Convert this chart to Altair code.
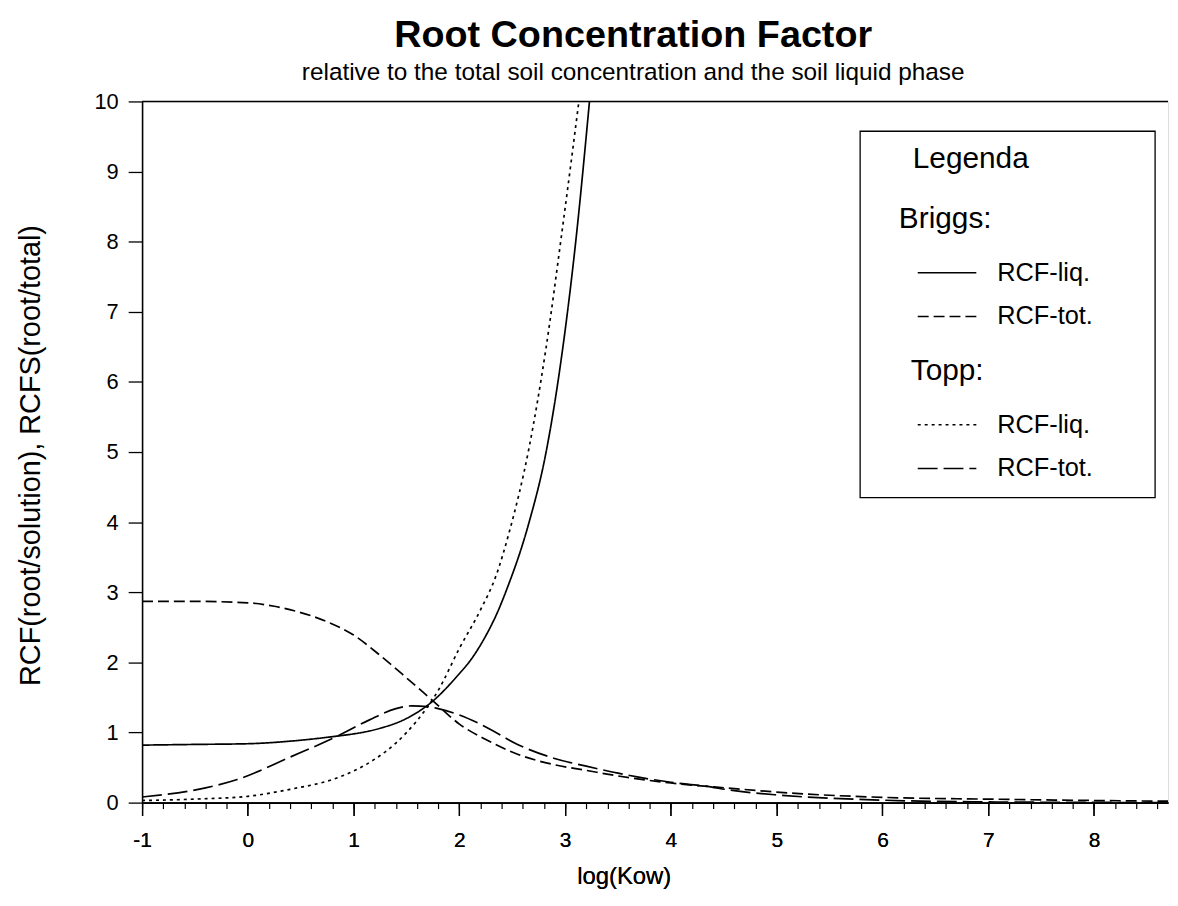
import altair as alt
import pandas as pd

# ---- data (x = log(Kow), y = factor) ----
briggs_liq_x = [-1.0, -0.5, 0.0, 0.5, 0.85, 1.0, 1.25, 1.5, 1.75, 2.0, 2.1, 2.25, 2.35, 2.45, 2.65, 2.82, 2.97, 3.1, 3.23]
briggs_liq_y = [0.82, 0.83, 0.84, 0.89, 0.95, 0.98, 1.06, 1.2, 1.45, 1.84, 2.02, 2.38, 2.68, 3.05, 3.95, 5.0, 6.4, 8.0, 10.0]

briggs_tot_x = [-1.0, -0.5, 0.0, 0.25, 0.5, 0.75, 1.0, 1.25, 1.5, 1.75, 2.0, 2.25, 2.55, 2.9, 3.2, 3.5, 4.0, 4.6, 5.0, 6.0, 7.0, 8.0, 8.7]
briggs_tot_y = [2.87, 2.87, 2.85, 2.8, 2.71, 2.58, 2.39, 2.1, 1.78, 1.45, 1.12, 0.9, 0.69, 0.54, 0.46, 0.38, 0.28, 0.2, 0.15, 0.075, 0.05, 0.03, 0.02]

topp_liq_x = [-1.0, -0.5, 0.0, 0.4, 0.8, 1.0, 1.2, 1.4, 1.6, 1.8, 2.0, 2.2, 2.35, 2.47, 2.66, 2.82, 2.97, 3.13]
topp_liq_y = [0.03, 0.05, 0.09, 0.19, 0.33, 0.45, 0.62, 0.85, 1.17, 1.6, 2.2, 2.75, 3.25, 3.85, 5.07, 6.49, 8.14, 10.0]

topp_tot_x = [-1.0, -0.4, -0.1, 0.4, 0.85, 1.15, 1.4, 1.55, 1.7, 1.8, 2.0, 2.25, 2.55, 2.9, 3.2, 3.5, 4.0, 4.3, 4.6, 5.0, 6.0, 7.0, 8.0, 8.7]
topp_tot_y = [0.08, 0.21, 0.33, 0.65, 0.95, 1.18, 1.34, 1.38, 1.37, 1.34, 1.25, 1.08, 0.83, 0.63, 0.52, 0.42, 0.29, 0.24, 0.17, 0.11, 0.035, 0.01, 0.003, 0.0]

series_labels = ["RCF-liq.", "RCF-tot."]
x_ticks = [-1, 0, 1, 2, 3, 4, 5, 6, 7, 8]
x_minor = [round(-1 + 0.2 * i, 1) for i in range(49)]
y_ticks = [0, 1, 2, 3, 4, 5, 6, 7, 8, 9, 10]

rows = []
for grp, lab, xs, ys in [
    ("Briggs", "RCF-liq.", briggs_liq_x, briggs_liq_y),
    ("Briggs", "RCF-tot.", briggs_tot_x, briggs_tot_y),
    ("Topp", "RCF-liq.", topp_liq_x, topp_liq_y),
    ("Topp", "RCF-tot.", topp_tot_x, topp_tot_y),
]:
    for i, (a, b) in enumerate(zip(xs, ys)):
        rows.append({"x": a, "y": b, "group": grp, "label": lab, "order": i})
df = pd.DataFrame(rows)

FONT = "Liberation Sans"
W, H = 1033, 706
PX0, PY0 = 143, 99  # plot origin on page

xscale = alt.Scale(domain=[-1, 8.7], nice=False, zero=False)
yscale = alt.Scale(domain=[0, 10], nice=False, zero=False)

x_axis = alt.Axis(orient="bottom", values=x_ticks, tickSize=13, tickColor="black", tickWidth=1.3,
                  domainColor="black", domainWidth=1.6, grid=False,
                  labelFont=FONT, labelFontSize=21, labelColor="black", labelPadding=14,
                  labelExpr="'' + datum.value",
                  title="log(Kow)", titleFont=FONT, titleFontSize=24, titleFontWeight="normal",
                  titleColor="black", titlePadding=14, titleX=485, labelFlush=False, labelOverlap=False)
y_axis = alt.Axis(orient="left", values=y_ticks, tickSize=14, tickColor="black", tickWidth=1.3,
                  domainColor="black", domainWidth=1.6, grid=False,
                  labelFont=FONT, labelFontSize=22, labelColor="black", labelPadding=10,
                  labelExpr="'' + datum.value",
                  title="RCF(root/solution), RCFS(root/total)", titleFont=FONT, titleFontSize=29,
                  titleFontWeight="normal", titleColor="black", titlePadding=49, titleY=356)
minor_axis = alt.Axis(values=x_minor, tickSize=6, tickColor="black", tickWidth=1.2,
                      domain=False, labels=False, grid=False, title=None, orient="bottom")

def leg(title, lx, ly, soff):
    return alt.Legend(title=title, orient="none", legendX=lx, legendY=ly,
                      symbolType="stroke", symbolSize=3481, symbolStrokeColor="black",
                      symbolStrokeWidth=1.6, symbolOffset=soff, labelOffset=20,
                      titleFont=FONT, titleFontSize=30, titleFontWeight="normal", titleColor="black",
                      labelFont=FONT, labelFontSize=25.5, labelColor="black",
                      titlePadding=9, rowPadding=0, padding=0)

base = alt.Chart(df)

briggs = base.transform_filter(alt.datum.group == "Briggs").mark_line(
    color="black", strokeWidth=1.7, clip=True, interpolate="monotone"
).encode(
    x=alt.X("x:Q", scale=xscale, axis=x_axis),
    y=alt.Y("y:Q", scale=yscale, axis=y_axis),
    strokeDash=alt.StrokeDash("label:N",
                              scale=alt.Scale(domain=series_labels, range=[[1, 0], [11, 5]]),
                              legend=leg("Briggs:", 905 - PX0, 202 - PY0, 18)),
    order="order:Q",
)

topp = base.transform_filter(alt.datum.group == "Topp").mark_line(
    color="black", strokeWidth=1.7, clip=True, interpolate="monotone"
).encode(
    x=alt.X("x:Q", scale=xscale, axis=x_axis),
    y=alt.Y("y:Q", scale=yscale, axis=y_axis),
    strokeDash=alt.StrokeDash("label:N",
                              scale=alt.Scale(domain=series_labels, range=[[3, 4], [20, 6]]),
                              legend=leg("Topp:", 917 - PX0, 355 - PY0, 6)),
    order="order:Q",
)

minor = base.mark_line(strokeOpacity=0).encode(
    x=alt.X("x:Q", scale=xscale, axis=minor_axis),
    y=alt.Y("y:Q", scale=yscale, axis=y_axis),
    detail="label:N",
)

top_line = alt.Chart(pd.DataFrame({"v": [10]})).mark_rule(color="black", strokeWidth=1.6).encode(
    y=alt.Y("v:Q", scale=yscale, axis=y_axis)
)

box_df = pd.DataFrame({"t": ["Legenda"]})
box = alt.Chart(box_df).mark_rect(fillOpacity=0, stroke="black", strokeWidth=1.3).encode(
    x=alt.value(866 - PX0), x2=alt.value(1163 - PX0),
    y=alt.value(129 - PY0), y2=alt.value(498 - PY0),
)
legend_title = alt.Chart(box_df).mark_text(
    font=FONT, fontSize=30, align="left", baseline="alphabetic", color="black"
).encode(x=alt.value(919 - PX0), y=alt.value(166 - PY0), text="t:N")

chart = alt.layer(briggs, topp, minor, top_line, box, legend_title).resolve_scale(
    strokeDash="independent"
).resolve_axis(x="independent").properties(
    width=W, height=H,
    autosize=alt.AutoSizeParams(type="none"),
    padding={"left": PX0 - 8, "top": PY0 - 8, "right": 2, "bottom": 101},
    title=alt.TitleParams(
        text="Root Concentration Factor", subtitle="relative to the total soil concentration and the soil liquid phase",
        font=FONT, fontSize=38, fontWeight="bold", color="black",
        subtitleFont=FONT, subtitleFontSize=24.5, subtitleColor="black", subtitlePadding=6,
        anchor="middle", dx=-22, offset=6,
    ),
).configure_view(stroke=None).configure(background="white")

chart.save("out.html", embed_options={"renderer": "svg", "actions": False})
